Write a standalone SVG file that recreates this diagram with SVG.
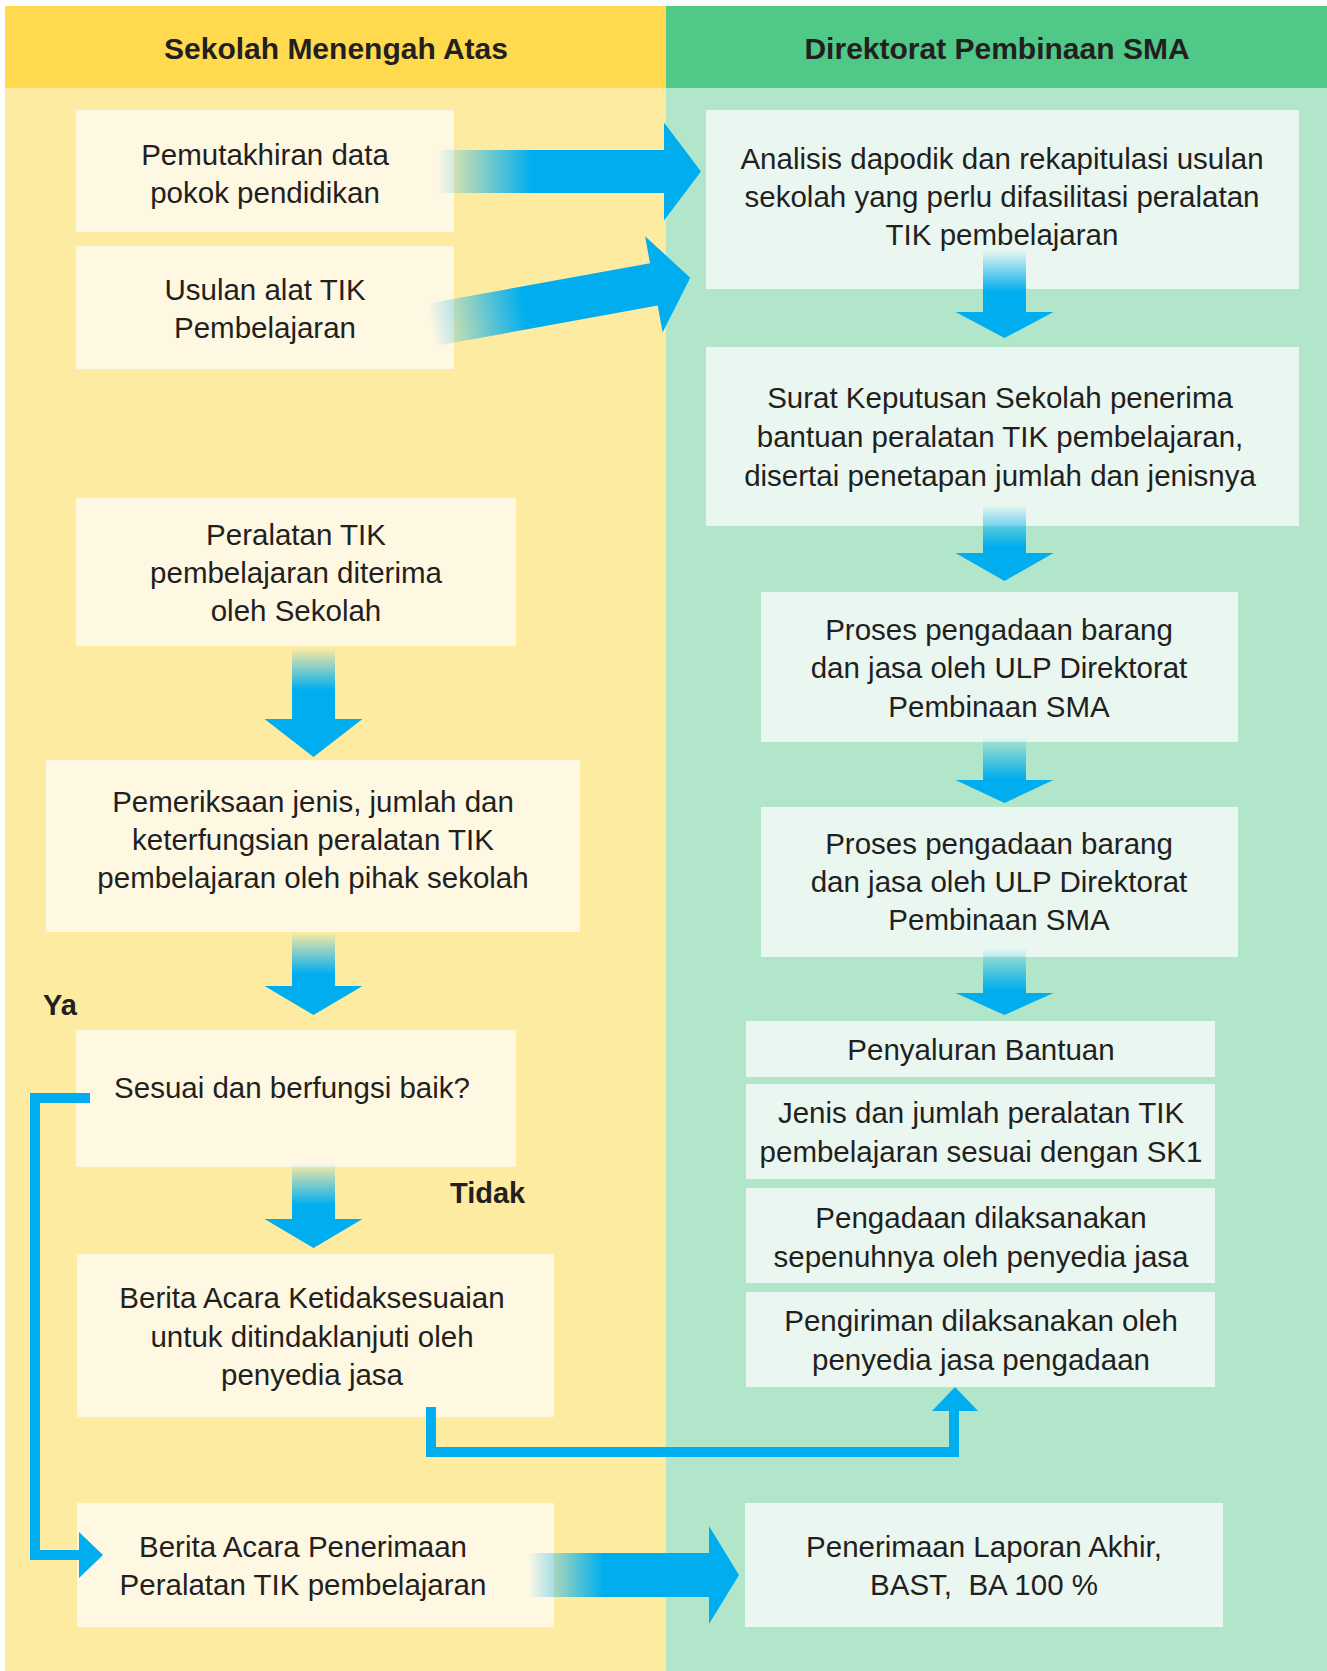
<svg xmlns="http://www.w3.org/2000/svg" width="1327" height="1671" viewBox="0 0 1327 1671">
<style>
.t{font-family:"Liberation Sans",Arial,sans-serif;font-size:29.5px;fill:#231F20;text-anchor:middle}
.h{font-family:"Liberation Sans",Arial,sans-serif;font-size:30px;font-weight:bold;fill:#231F20;text-anchor:middle}
.lb{font-family:"Liberation Sans",Arial,sans-serif;font-size:29px;font-weight:bold;fill:#231F20}
.by{fill:#FEF8E3}
.bg{fill:#E9F7F0}
.ln{fill:none;stroke:#00AEEF;stroke-width:10;stroke-linejoin:miter}
.hd{fill:#00AEEF}
</style>
<defs>
<linearGradient id="gv" gradientUnits="userSpaceOnUse" x1="0" y1="0" x2="0" y2="42">
<stop offset="0" stop-color="#00AEEF" stop-opacity="0"/>
<stop offset="1" stop-color="#00AEEF" stop-opacity="1"/>
</linearGradient>
<linearGradient id="gh1" gradientUnits="userSpaceOnUse" x1="0" y1="0" x2="95" y2="0">
<stop offset="0" stop-color="#00AEEF" stop-opacity="0"/>
<stop offset="1" stop-color="#00AEEF" stop-opacity="1"/>
</linearGradient>
<linearGradient id="gh3" gradientUnits="userSpaceOnUse" x1="0" y1="0" x2="75" y2="0">
<stop offset="0" stop-color="#00AEEF" stop-opacity="0"/>
<stop offset="1" stop-color="#00AEEF" stop-opacity="1"/>
</linearGradient>
</defs>

<rect x="0" y="0" width="1327" height="1671" fill="#FFFFFF"/>
<g id="lane-sma">
<rect x="5" y="88" width="661" height="1583" fill="#FEEBA2"/>
<rect x="5" y="6" width="661" height="82" fill="#FFD94E"/>
<text class="h" x="336" y="59">Sekolah Menengah Atas</text>
</g>
<g id="lane-dir">
<rect x="666" y="88" width="661" height="1583" fill="#B1E6CA"/>
<rect x="666" y="6" width="661" height="82" fill="#50C887"/>
<text class="h" x="997" y="59">Direktorat Pembinaan SMA</text>
</g>

<g id="n-pemutakhiran"><rect class="by" x="76" y="110" width="378" height="122"/>
<text class="t" x="265" y="165">Pemutakhiran data</text><text class="t" x="265" y="203">pokok pendidikan</text></g>
<g id="n-usulan"><rect class="by" x="76" y="246" width="378" height="123"/>
<text class="t" x="265" y="300">Usulan alat TIK</text><text class="t" x="265" y="338">Pembelajaran</text></g>
<g id="n-peralatan"><rect class="by" x="76" y="498" width="440" height="148"/>
<text class="t" x="296" y="545">Peralatan TIK</text><text class="t" x="296" y="583">pembelajaran diterima</text><text class="t" x="296" y="621">oleh Sekolah</text></g>
<g id="n-pemeriksaan"><rect class="by" x="46" y="760" width="534" height="172"/>
<text class="t" x="313" y="812">Pemeriksaan jenis, jumlah dan</text><text class="t" x="313" y="850">keterfungsian peralatan TIK</text><text class="t" x="313" y="888">pembelajaran oleh pihak sekolah</text></g>
<g id="n-sesuai"><rect class="by" x="76" y="1030" width="440" height="137"/>
<text class="t" x="292" y="1098">Sesuai dan berfungsi baik?</text></g>
<g id="n-ba-ketidaksesuaian"><rect class="by" x="77" y="1254" width="477" height="163"/>
<text class="t" x="312" y="1308">Berita Acara Ketidaksesuaian</text><text class="t" x="312" y="1347">untuk ditindaklanjuti oleh</text><text class="t" x="312" y="1385">penyedia jasa</text></g>
<g id="n-ba-penerimaan"><rect class="by" x="77" y="1503" width="477" height="124"/>
<text class="t" x="303" y="1557">Berita Acara Penerimaan</text><text class="t" x="303" y="1595">Peralatan TIK pembelajaran</text></g>

<g id="n-analisis"><rect class="bg" x="706" y="110" width="593" height="179"/>
<text class="t" x="1002" y="169">Analisis dapodik dan rekapitulasi usulan</text><text class="t" x="1002" y="207">sekolah yang perlu difasilitasi peralatan</text><text class="t" x="1002" y="245">TIK pembelajaran</text></g>
<g id="n-sk"><rect class="bg" x="706" y="347" width="593" height="179"/>
<text class="t" x="1000" y="408">Surat Keputusan Sekolah penerima</text><text class="t" x="1000" y="447">bantuan peralatan TIK pembelajaran,</text><text class="t" x="1000" y="486">disertai penetapan jumlah dan jenisnya</text></g>
<g id="n-proses1"><rect class="bg" x="761" y="592" width="477" height="150"/>
<text class="t" x="999" y="640">Proses pengadaan barang</text><text class="t" x="999" y="678">dan jasa oleh ULP Direktorat</text><text class="t" x="999" y="717">Pembinaan SMA</text></g>
<g id="n-proses2"><rect class="bg" x="761" y="807" width="477" height="150"/>
<text class="t" x="999" y="854">Proses pengadaan barang</text><text class="t" x="999" y="892">dan jasa oleh ULP Direktorat</text><text class="t" x="999" y="930">Pembinaan SMA</text></g>
<g id="n-penyaluran"><rect class="bg" x="746" y="1021" width="469" height="56"/>
<text class="t" x="981" y="1060">Penyaluran Bantuan</text></g>
<g id="n-jenis"><rect class="bg" x="746" y="1084" width="469" height="95"/>
<text class="t" x="981" y="1123">Jenis dan jumlah peralatan TIK</text><text class="t" x="981" y="1162">pembelajaran sesuai dengan SK1</text></g>
<g id="n-pengadaan"><rect class="bg" x="746" y="1188" width="469" height="95"/>
<text class="t" x="981" y="1228">Pengadaan dilaksanakan</text><text class="t" x="981" y="1267">sepenuhnya oleh penyedia jasa</text></g>
<g id="n-pengiriman"><rect class="bg" x="746" y="1292" width="469" height="95"/>
<text class="t" x="981" y="1331">Pengiriman dilaksanakan oleh</text><text class="t" x="981" y="1370">penyedia jasa pengadaan</text></g>
<g id="n-laporan"><rect class="bg" x="745" y="1503" width="478" height="124"/>
<text class="t" x="984" y="1557">Penerimaan Laporan Akhir,</text><text class="t" x="984" y="1595">BAST,&#160; BA 100 %</text></g>

<g id="connectors">
<g transform="translate(437,171.5)"><path fill="url(#gh1)" d="M0,-21.5 H227 V-49 L264,0 L227,49 V21.5 H0 Z"/></g>
<g transform="translate(430.5,325) rotate(-10.3)"><path fill="url(#gh1)" d="M0,-21.5 H227 V-49 L264,0 L227,49 V21.5 H0 Z"/></g>
<g transform="translate(528,1575)"><path fill="url(#gh3)" d="M0,-22 H181 V-49 L211,0 L181,49 V22 H0 Z"/></g>

<g transform="translate(313.5,648)"><path fill="url(#gv)" d="M-21.5,0 H21.5 V71 H49 L0,109 L-49,71 H-21.5 Z"/></g>
<g transform="translate(313.5,932)"><path fill="url(#gv)" d="M-21.5,0 H21.5 V54 H49 L0,83 L-49,54 H-21.5 Z"/></g>
<g transform="translate(313.5,1163)"><path fill="url(#gv)" d="M-21.5,0 H21.5 V56 H49 L0,85 L-49,56 H-21.5 Z"/></g>

<g transform="translate(1004.5,250)"><path fill="url(#gv)" d="M-21.5,0 H21.5 V62 H49 L0,88 L-49,62 H-21.5 Z"/></g>
<g transform="translate(1004.5,505)"><path fill="url(#gv)" d="M-21.5,0 H21.5 V48 H49 L0,76 L-49,48 H-21.5 Z"/></g>
<g transform="translate(1004.5,737)"><path fill="url(#gv)" d="M-21.5,0 H21.5 V43 H49 L0,66 L-49,43 H-21.5 Z"/></g>
<g transform="translate(1004.5,948)"><path fill="url(#gv)" d="M-21.5,0 H21.5 V45 H49 L0,67 L-49,45 H-21.5 Z"/></g>

<path class="ln" d="M90,1098 H35 V1555 H82"/>
<path class="hd" d="M79,1532 L103,1555 L79,1578 Z"/>
<path class="ln" d="M431,1407 V1452 H954 V1409"/>
<path class="hd" d="M932,1411 L978,1411 L955,1387 Z"/>
</g>

<text class="lb" x="43" y="1015">Ya</text>
<text class="lb" x="450" y="1203">Tidak</text>
</svg>
